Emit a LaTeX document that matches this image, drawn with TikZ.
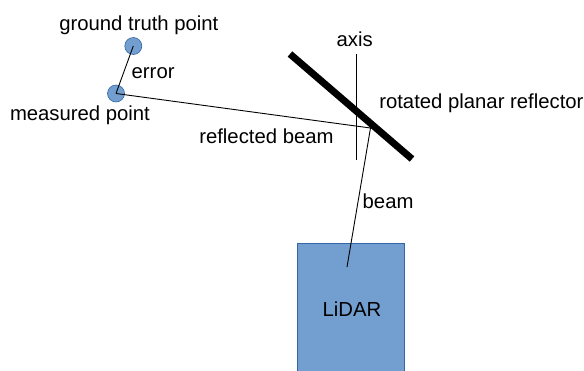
\documentclass[tikz,border=0pt]{standalone}
\usepackage{fontspec}
\setmainfont{Liberation Sans}
\definecolor{pointfill}{HTML}{729FCF}
\definecolor{pointedge}{HTML}{3465A4}
\begin{document}
\begin{tikzpicture}[x=1pt,y=-1pt,
  every node/.style={font=\fontsize{20.3}{24}\selectfont, inner sep=0pt, outer sep=0pt},
  lbl/.style={anchor=base west},
  pt/.style={circle, draw=pointedge, fill=pointfill, minimum size=17pt, line width=0.6pt},
  ray/.style={line width=0.9pt},
  mirror/.style={line width=7pt},
  devicebox/.style={draw=pointedge, fill=pointfill, line width=0.8pt}]
\useasboundingbox (0,0) rectangle (584,370);

% LiDAR unit
\draw[devicebox] (297,243) rectangle (404,372);
\node[lbl] (lidar) at (322.7,316) {LiDAR};

% Rotation axis and the rotated reflector
\coordinate (axtop) at (356,54);
\coordinate (axbot) at (356,160);
\draw[line width=0.8pt] (axtop) -- (axbot);
\coordinate (mirA) at (290,54);
\coordinate (mirB) at (412,159);
\draw[mirror] (mirA) -- (mirB);

% Points
\node[pt] (gt) at (133.3,46) {};
\node[pt] (meas) at (116,93.5) {};

% Beams
\coordinate (emit) at (347,267);
\coordinate (hit) at (370.5,128);
\draw[ray] (emit) -- (hit);
\draw[ray] (hit) -- (meas.center);
\draw[ray] (gt.center) -- (meas.center);

% Labels
\node[lbl] (gtl) at (59.3,30) {ground truth point};
\node[lbl] (errl) at (131.7,78.3) {error};
\node[lbl] (measl) at (10,120) {measured point};
\node[lbl] (axisl) at (336.7,46) {axis};
\node[lbl] (refl) at (379.3,108.3) {rotated planar reflector};
\node[lbl] (rbl) at (199.3,143.3) {reflected beam};
\node[lbl] (beaml) at (362.7,208.3) {beam};
\end{tikzpicture}
\end{document}
